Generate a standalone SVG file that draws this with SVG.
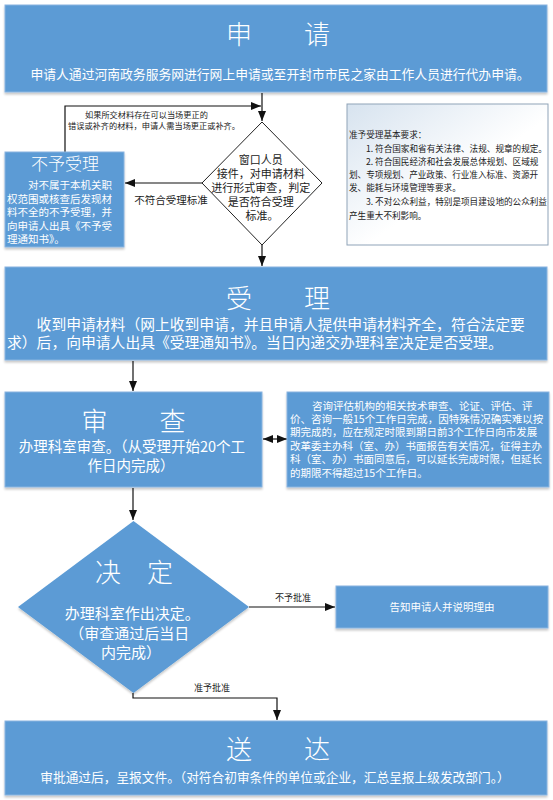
<svg xmlns="http://www.w3.org/2000/svg" width="553" height="800" viewBox="0 0 553 800">
<style>
.box{fill:#5b9bd5;stroke:#8ab4df;stroke-width:1}
.t{font-family:"Noto Sans CJK SC","Noto Sans",sans-serif;fill:#fff}
.title{font-size:26px;font-weight:300;text-anchor:middle}
.dk{font-family:"Noto Sans CJK SC","Noto Sans",sans-serif;fill:#222}
.ln{fill:none;stroke:#111;stroke-width:1.2}
</style>
<defs>
<marker id="ah" markerUnits="userSpaceOnUse" markerWidth="10" markerHeight="10" viewBox="0 0 10 10" refX="10" refY="5" orient="auto-start-reverse">
<path d="M0,1 L10,5 L0,9 Z" fill="#111"/>
</marker>
<filter id="sh" x="-5%" y="-5%" width="110%" height="120%">
<feDropShadow dx="0" dy="2" stdDeviation="1.2" flood-color="#000" flood-opacity="0.22"/>
</filter>
<linearGradient id="ig" x1="0" y1="0" x2="1" y2="1">
<stop offset="0" stop-color="#d7e3ef"/>
<stop offset="0.55" stop-color="#ffffff"/>
<stop offset="1" stop-color="#ffffff"/>
</linearGradient>
</defs>
<rect width="553" height="800" fill="#fff"/>

<g id="connectors">
<path class="ln" d="M262,93 V121" marker-end="url(#ah)"/>
<path class="ln" d="M65,152 V106 H261" marker-end="url(#ah)"/>
<path class="ln" d="M202,183 H125" marker-end="url(#ah)"/>
<path class="ln" d="M262,245 V266" marker-end="url(#ah)"/>
<path class="ln" d="M133,361 V391" marker-end="url(#ah)"/>
<path class="ln" d="M263,439 H287" marker-start="url(#ah)" marker-end="url(#ah)"/>
<path class="ln" d="M133,488 V520" marker-end="url(#ah)"/>
<path class="ln" d="M249,607 H335" marker-end="url(#ah)"/>
<path class="ln" d="M133,693 V698 H277 V720" marker-end="url(#ah)"/>
<text class="dk" x="85" y="117.5" font-size="8.2">如果所交材料存在可以当场更正的</text>
<text class="dk" x="68" y="128.5" font-size="8.2">错误或补齐的材料，申请人需当场更正或补齐。</text>
<text class="dk" x="171" y="204" font-size="10.5" text-anchor="middle">不符合受理标准</text>
<text class="dk" x="293" y="601" font-size="9" text-anchor="middle">不予批准</text>
<text class="dk" x="212" y="691" font-size="9" text-anchor="middle">准予批准</text>
</g>

<g id="apply">
<rect class="box" x="5" y="5" width="542" height="87" filter="url(#sh)"/>
<text class="t title" x="278" y="44">申　　请</text>
<text class="t" x="280" y="79" font-size="12.8" text-anchor="middle">申请人通过河南政务服务网进行网上申请或至开封市市民之家由工作人员进行代办申请。</text>
</g>

<g id="check">
<polygon points="262,122 322,183 262,245 202,183" fill="#fff" stroke="#222" stroke-width="1"/>
<text class="dk" font-size="11" text-anchor="middle">
<tspan x="262" y="164">窗口人员</tspan>
<tspan x="262" y="178">接件，对申请材料</tspan>
<tspan x="262" y="192">进行形式审查，判定</tspan>
<tspan x="262" y="206">是否符合受理</tspan>
<tspan x="262" y="220">标准。</tspan>
</text>
</g>

<g id="reject">
<rect class="box" x="5" y="152" width="119" height="95" filter="url(#sh)"/>
<text class="t" x="65" y="170" font-size="17" font-weight="300" text-anchor="middle">不予受理</text>
<text class="t" font-size="10.5">
<tspan x="28" y="189">对不属于本机关职</tspan>
<tspan x="7" y="202.5">权范围或核查后发现材</tspan>
<tspan x="7" y="216">料不全的不予受理，并</tspan>
<tspan x="7" y="229.5">向申请人出具《不予受</tspan>
<tspan x="7" y="243">理通知书》。</tspan>
</text>
</g>

<g id="requirements">
<rect x="347" y="104" width="201" height="141" fill="url(#ig)" stroke="#8fa3b8" stroke-width="1"/>
<text class="dk" font-size="8.6" fill="#333">
<tspan x="349" y="138">准予受理基本要求：</tspan>
<tspan x="366" y="152">1. 符合国家和省有关法律、法规、规章的规定。</tspan>
<tspan x="366" y="165">2. 符合国民经济和社会发展总体规划、区域规</tspan>
<tspan x="349" y="178">划、专项规划、产业政策、行业准入标准、资源开</tspan>
<tspan x="349" y="191">发、能耗与环境管理等要求。</tspan>
<tspan x="366" y="205">3. 不对公众利益，特别是项目建设地的公众利益</tspan>
<tspan x="349" y="219">产生重大不利影响。</tspan>
</text>
</g>

<g id="accept">
<rect class="box" x="5" y="267" width="542" height="93" filter="url(#sh)"/>
<text class="t title" x="278" y="308">受　　理</text>
<text class="t" font-size="14.8">
<tspan x="36.6" y="330">收到申请材料（网上收到申请，并且申请人提供申请材料齐全，符合法定要</tspan>
<tspan x="7" y="347.5">求）后，向申请人出具《受理通知书》。当日内递交办理科室决定是否受理。</tspan>
</text>
</g>

<g id="review">
<rect class="box" x="5" y="392" width="257" height="95" filter="url(#sh)"/>
<text class="t title" x="133.5" y="431">审　　查</text>
<text class="t" font-size="14.5" text-anchor="middle">
<tspan x="133.5" y="452">办理科室审查。（从受理开始20个工</tspan>
<tspan x="131" y="470.5">作日内完成）</tspan>
</text>
</g>

<g id="consult">
<rect class="box" x="287" y="392" width="262" height="95" filter="url(#sh)"/>
<text class="t" font-size="10.5">
<tspan x="312" y="409.5">咨询评估机构的相关技术审查、论证、评估、评</tspan>
<tspan x="290" y="422.9">价、咨询一般15个工作日完成，因特殊情况确实难以按</tspan>
<tspan x="290" y="436.3">期完成的，应在规定时限到期日前3个工作日向市发展</tspan>
<tspan x="290" y="449.7">改革委主办科（室、办）书面报告有关情况，征得主办</tspan>
<tspan x="290" y="463.1">科（室、办）书面同意后，可以延长完成时限，但延长</tspan>
<tspan x="290" y="476.5">的期限不得超过15个工作日。</tspan>
</text>
</g>

<g id="decide">
<polygon points="133.5,521 249,607 133.5,693 18,607" fill="#5b9bd5" filter="url(#sh)"/>
<text class="t title" x="134" y="582">决　定</text>
<text class="t" font-size="15" text-anchor="middle">
<tspan x="134" y="619">办理科室作出决定。</tspan>
<tspan x="131" y="638.5">（审查通过后当日</tspan>
<tspan x="131" y="658">内完成）</tspan>
</text>
</g>

<g id="notify">
<rect class="box" x="336" y="586" width="212" height="42" filter="url(#sh)"/>
<text class="t" x="442" y="611" font-size="10.5" text-anchor="middle">告知申请人并说明理由</text>
</g>

<g id="deliver">
<rect class="box" x="5" y="721" width="542" height="74" filter="url(#sh)"/>
<text class="t title" x="278" y="759">送　　达</text>
<text class="t" x="275" y="782" font-size="12.7" text-anchor="middle">审批通过后，呈报文件。（对符合初审条件的单位或企业，汇总呈报上级发改部门。）</text>
</g>
</svg>
